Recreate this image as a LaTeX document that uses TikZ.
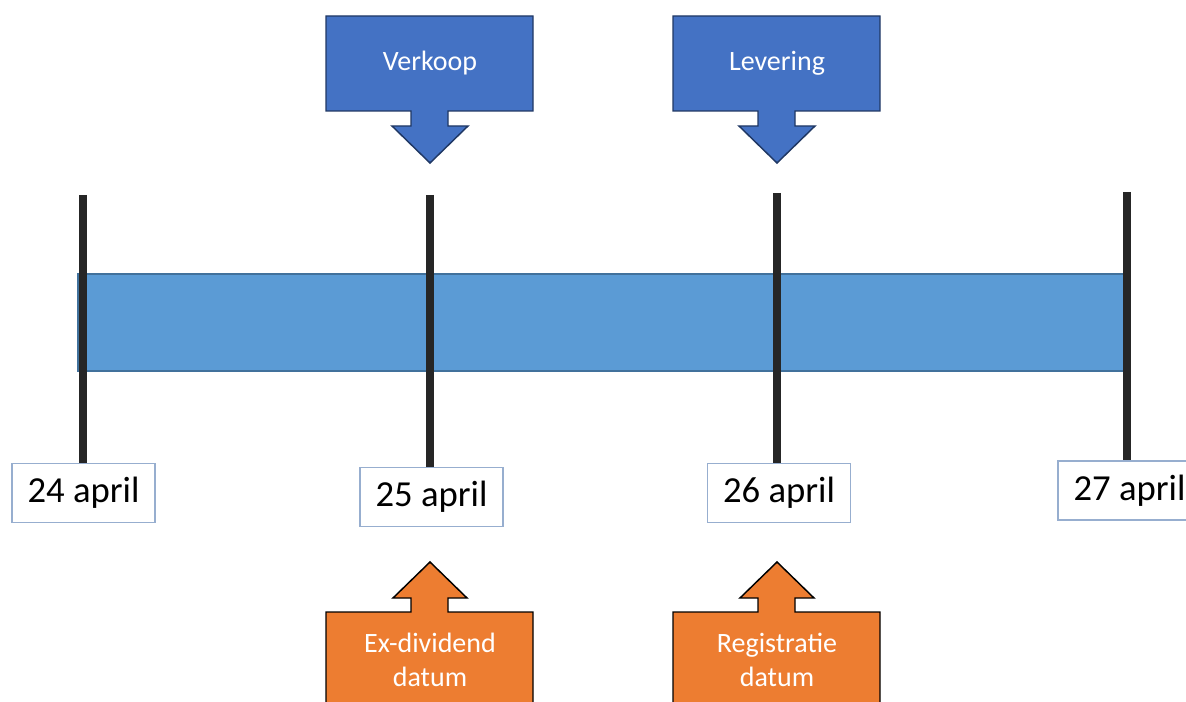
\documentclass[tikz,border=0pt]{standalone}
\usepackage{fontspec}
\setmainfont{Carlito}
\usetikzlibrary{backgrounds}
\definecolor{barfill}{HTML}{5B9BD5}
\definecolor{baredge}{HTML}{41719C}
\definecolor{callblue}{HTML}{4472C4}
\definecolor{calledge}{HTML}{203864}
\definecolor{callorange}{HTML}{ED7D31}
\definecolor{boxedge}{HTML}{97AECF}
\definecolor{tickgray}{HTML}{262626}
\tikzset{
  datebox/.style={draw=boxedge, fill=white, line width=1.1pt, minimum width=107pt,
    minimum height=44pt, inner sep=0pt, font=\fontsize{27.5}{31}\selectfont},
  tickline/.style={draw=tickgray, line width=6pt},
  downcall/.style={fill=callblue, draw=calledge, line width=1.1pt},
  upcall/.style={fill=callorange, draw=black, line width=1.1pt},
  calltext/.style={text=white, align=center, font=\fontsize{21}{25.5}\selectfont}
}
\begin{document}
\begin{tikzpicture}[x=0.75pt,y=-0.75pt]
  \useasboundingbox (0,0) rectangle (1186,702);
  % data onder de balk
  \node[datebox] (d24) at (83.5,493) {24 april};
  \node[datebox] (d25) at (431.5,497) {25 april};
  \node[datebox] (d26) at (779,493) {26 april};
  \node[datebox] (d27) at (1129.5,490.5) {27 april};
  \coordinate (t24) at (83,195);
  \coordinate (t25) at (430,195);
  \coordinate (t26) at (777,193);
  \coordinate (t27) at (1127,192);
  % tijdbalk en streepjes achter de data
  \begin{scope}[on background layer]
    \draw[fill=barfill, draw=baredge, line width=1.1pt] (78,274) rectangle (1124,371);
    \foreach \d in {24,25,26,27}
      \draw[tickline] (t\d) -- (t\d |- d\d.north);
  \end{scope}
  % pijlen boven
  \foreach \c/\n/\t in {430/verkoop/Verkoop, 777/levering/Levering}{
    \draw[downcall] (\c-104,16) -- (\c+103,16) -- (\c+103,111) -- (\c+18,111)
      -- (\c+18,126) -- (\c+38,126) -- (\c,163) -- (\c-38,126) -- (\c-19,126)
      -- (\c-19,111) -- (\c-104,111) -- cycle;
    \node[calltext] (\n) at (\c,63) {\t};
  }
  % pijlen onder
  \foreach \c/\n/\t in {430/exdiv/{Ex-dividend\\datum}, 777/registratie/{Registratie\\datum}}{
    \draw[upcall] (\c,562) -- (\c+37,598) -- (\c+18,598) -- (\c+18,612)
      -- (\c+103,612) -- (\c+103,712) -- (\c-104,712) -- (\c-104,612)
      -- (\c-19,612) -- (\c-19,598) -- (\c-37,598) -- cycle;
    \node[calltext] (\n) at (\c,660) {\t};
  }
\end{tikzpicture}
\end{document}
